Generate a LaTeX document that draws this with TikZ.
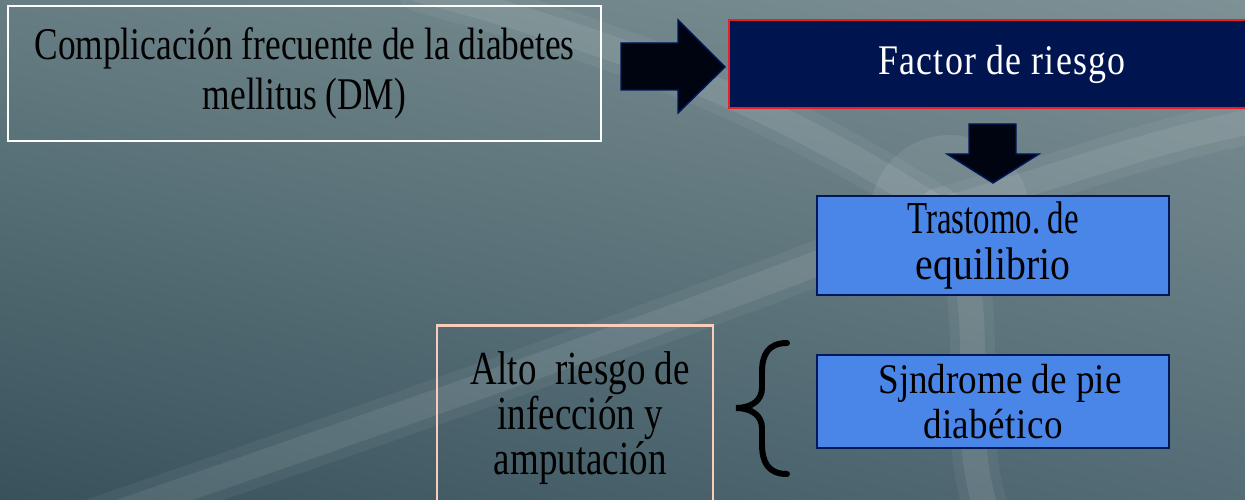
\documentclass[tikz,border=0pt]{standalone}
\usepackage{fontspec}
\setmainfont{Liberation Serif}
\newfontfamily\narrowfont[FakeStretch=0.78]{Liberation Serif}
\newfontfamily\riskfont[FakeStretch=0.85, LetterSpace=3]{Liberation Serif}
\newfontfamily\tightfont[FakeStretch=0.72]{Liberation Serif}
\newfontfamily\equilfont[FakeStretch=0.87]{Liberation Serif}
\newfontfamily\midfont[FakeStretch=0.88]{Liberation Serif}
\newfontfamily\spreadfont[FakeStretch=0.88, LetterSpace=1.1]{Liberation Serif}
\usetikzlibrary{shadings}
\definecolor{bgtl}{RGB}{102,126,131}
\definecolor{bgtr}{RGB}{126,145,149}
\definecolor{bgbl}{RGB}{56,82,92}
\definecolor{bgbr}{RGB}{84,108,118}
\definecolor{navyfill}{RGB}{0,20,80}
\definecolor{redline}{RGB}{232,30,40}
\definecolor{bluefill}{RGB}{74,134,232}
\definecolor{blueline}{RGB}{0,24,90}
\definecolor{arrowfill}{RGB}{0,4,16}
\definecolor{pinkline}{RGB}{250,204,188}
\begin{document}
\begin{tikzpicture}[x=0.02cm, y=-0.02cm,
    whitebox/.style ={draw=white, line width=1.2pt, minimum width=11.86cm, minimum height=2.7cm, align=center, font=\narrowfont\fontsize{25.8}{28.5}\selectfont},
    riskbox/.style ={draw=redline, fill=navyfill, line width=1.2pt, minimum width=10.92cm, minimum height=1.76cm, text=white, font=\riskfont\fontsize{24}{28}\selectfont},
    bluebox/.style ={draw=blueline, fill=bluefill, line width=1.2pt, minimum width=7.04cm, minimum height=1.86cm, align=center},
    pinkbox/.style ={draw=pinkline, line width=1.6pt, minimum width=5.52cm, minimum height=3.7cm, align=center, font=\narrowfont\fontsize{27}{22.5}\selectfont},
    blockarrow/.style ={draw=blueline, fill=arrowfill, line width=0.8pt, line join=miter},
    glow/.style ={white, line cap=round}]
   \clip (0,0) rectangle (1245,500);
   \shade[upper left=bgtl, upper right=bgtr, lower left=bgbl, lower right=bgbr] (0,0) rectangle (1245,500);
   \foreach \w/\o in {0.9cm/0.05, 0.5cm/0.08} {
     \draw[glow, opacity=\o, line width=\w] (420,-10) .. controls (650,50) and (800,120) .. (940,210);
     \draw[glow, opacity=\o, line width=\w] (-20,560) .. controls (300,450) and (650,330) .. (930,220);
     \draw[glow, opacity=\o, line width=\w] (940,210) .. controls (1000,300) and (950,420) .. (990,520);
     \draw[glow, opacity=\o, line width=\w] (940,210) .. controls (1050,180) and (1150,140) .. (1260,120);
   }
   \fill[white, opacity=0.08] (950,215) circle (1.6cm);

   \node[whitebox] (dm) at (304.5,73.5) {Complicación frecuente de la diabetes\\mellitus (DM)};
   \node[riskbox] (risk) at (1002,64) {Factor de riesgo};
   \node[bluebox, font=\fontsize{26}{26.6}\selectfont] (equil) at (993,245.5) {{\tightfont Trastomo.\,de}\\{\equilfont equilibrio}};
   \node[bluebox, font=\fontsize{24}{26}\selectfont] (foot) at (993,401.5) {{\midfont\hspace{8pt}Sjndrome de pie}\\{\spreadfont diabético}};
   \node[pinkbox] (amput) at (575,418) {\hspace{6pt}Alto\ \ riesgo de\\\hspace{6pt}infección y\\\hspace{6pt}amputación};

   \draw[blockarrow] (621,43) -- (678,43) -- (678,20) -- (725,67) -- (678,113) -- (678,90) -- (621,90) -- cycle;
   \draw[blockarrow] (969,124) -- (1016,124) -- (1016,154) -- (1039,154) -- (993,183) -- (947,154) -- (969,154) -- cycle;
   \draw[line width=3.4pt, line cap=round] (787,343) .. controls (768,343) and (762,355) .. (762,372) -- (762,388) .. controls (762,400) and (752,408) .. (736,408) .. controls (752,408) and (762,416) .. (762,428) -- (762,444) .. controls (762,462) and (768,474) .. (787,474);
 \end{tikzpicture}
\end{document}
